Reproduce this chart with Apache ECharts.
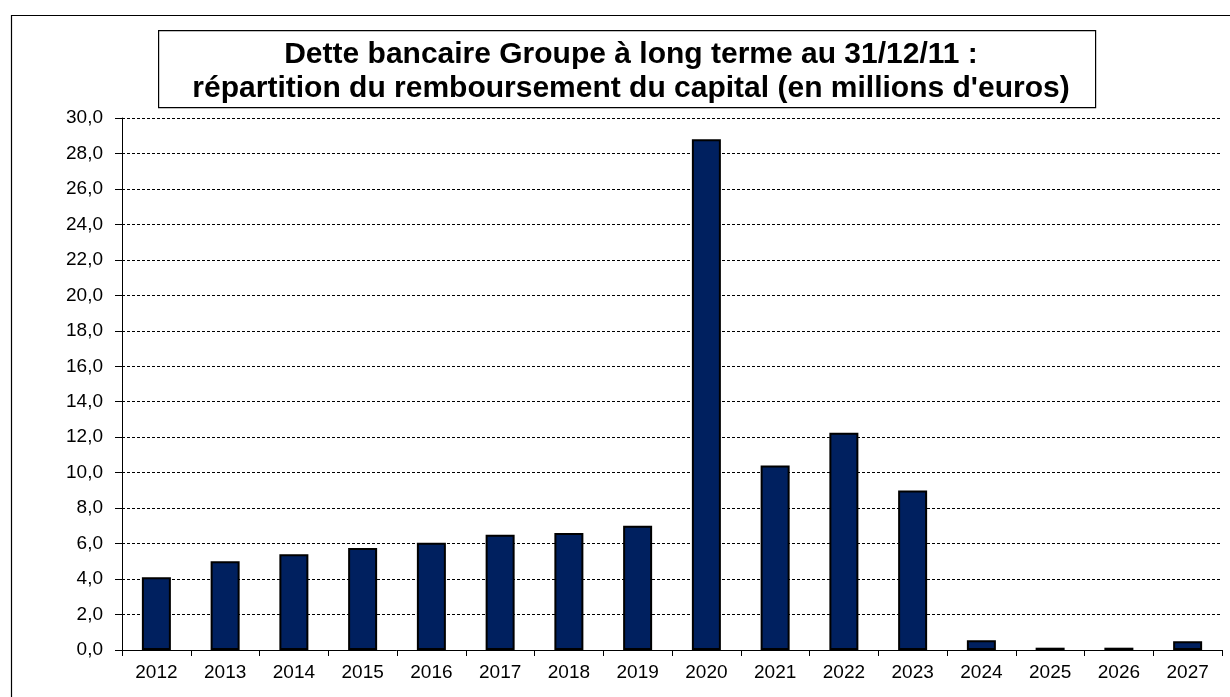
<!DOCTYPE html>
<html>
<head>
<meta charset="utf-8">
<script src="https://cdn.jsdelivr.net/npm/echarts@6/dist/echarts.min.js"></script>
<style>
  html, body { margin: 0; padding: 0; background: #fff; }
  #chart { width: 1230px; height: 697px; }
</style>
</head>
<body>
<div id="chart"></div>
<script>
// Years of repayment
const years = ['2012', '2013', '2014', '2015', '2016', '2017', '2018', '2019',
               '2020', '2021', '2022', '2023', '2024', '2025', '2026', '2027'];
// Capital repaid per year, in millions of euros
const repayments = [4.1, 5.0, 5.4, 5.75, 6.05, 6.5, 6.6, 7.0,
                    28.8, 10.4, 12.25, 9.0, 0.55, 0.13, 0.13, 0.5];
// Title lines
const titleLines = [
  'Dette bancaire Groupe à long terme au 31/12/11 :',
  "répartition du remboursement du capital (en millions d'euros)"
];

const font = '"Liberation Sans", Arial, sans-serif';
const chart = echarts.init(document.getElementById('chart'), null, { renderer: 'canvas' });

chart.setOption({
  animation: false,
  backgroundColor: '#fff',
  title: {
    text: titleLines.join('\n'),
    left: 626,
    top: 33,
    textAlign: 'center',
    textStyle: {
      fontFamily: font,
      fontSize: 30,
      fontWeight: 'bold',
      color: '#000',
      lineHeight: 34
    }
  },
  graphic: [
    {
      type: 'rect',
      left: 9, top: 13,
      shape: { width: 1240, height: 720 },
      style: { fill: 'none', stroke: '#000', lineWidth: 1.2 },
      z: -1
    },
    {
      type: 'rect',
      left: 158, top: 30,
      shape: { width: 937, height: 77 },
      style: { fill: '#fff', stroke: '#000', lineWidth: 1.2 },
      z: 0
    }
  ],
  grid: { left: 122, right: 8, top: 118, bottom: 47, containLabel: false },
  xAxis: {
    type: 'category',
    data: years,
    boundaryGap: true,
    axisLine: { lineStyle: { color: '#000', width: 1 } },
    axisTick: { show: true, length: 6, alignWithLabel: false, lineStyle: { color: '#000' } },
    axisLabel: { color: '#000', fontFamily: font, fontSize: 19, margin: 13 }
  },
  yAxis: {
    type: 'value',
    min: 0, max: 30, interval: 2,
    axisLine: { show: true, lineStyle: { color: '#000', width: 1 } },
    axisTick: { show: true, length: 7, lineStyle: { color: '#000' } },
    axisLabel: {
      color: '#000', fontFamily: font, fontSize: 19, margin: 19,
      formatter: v => v.toFixed(1).replace('.', ',')
    },
    splitLine: { show: true, lineStyle: { color: '#000', width: 1, type: [3, 2] } }
  },
  series: [{
    type: 'bar',
    data: repayments,
    barWidth: 29,
    itemStyle: { color: '#00205F', borderColor: '#000', borderWidth: 2 }
  }]
});
</script>
</body>
</html>
